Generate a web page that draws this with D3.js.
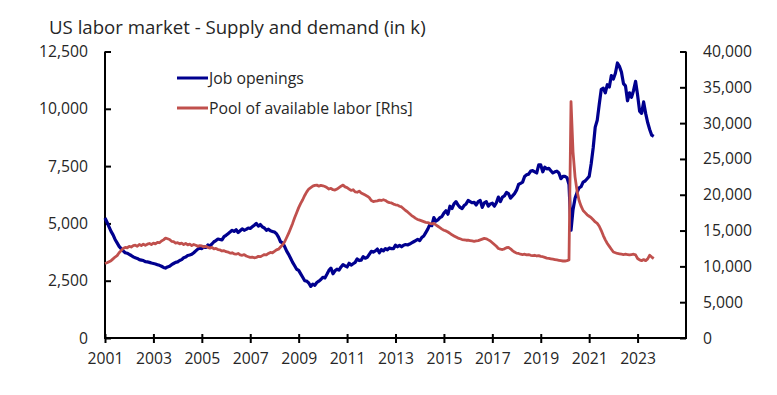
<!DOCTYPE html>
<html><head><meta charset="utf-8">
<script src="https://cdn.jsdelivr.net/npm/d3@7"></script>
<style>body{margin:0;background:#fff;} svg{display:block;font-family:"Open Sans",Lato,sans-serif;}</style>
</head><body><svg id="c" width="777" height="395"></svg>
<script>
const title = "US labor market - Supply and demand (in k)";
const seriesNames = ["Job openings", "Pool of available labor [Rhs]"];
const startYear = 2001; // monthly data from Jan 2001
const jobOpenings = [
5236,5050,4850,4650,4500,4300,4150,4000,3900,3800,3720,3700,
3650,3600,3540,3500,3470,3420,3400,3380,3330,3320,3300,3270,
3250,3230,3200,3170,3130,3080,3050,3100,3130,3200,3250,3300,
3320,3380,3420,3500,3530,3600,3620,3650,3720,3800,3880,3920,
3900,3980,3950,4060,4020,4100,4200,4250,4320,4300,4280,4420,
4480,4550,4620,4700,4650,4720,4600,4680,4760,4700,4740,4800,
4780,4850,4920,5000,4880,4950,4850,4800,4700,4750,4680,4650,
4620,4550,4400,4200,4150,4000,3800,3650,3480,3300,3150,3000,
2950,2800,2650,2500,2480,2400,2250,2350,2300,2420,2480,2550,
2650,2620,2780,2950,3050,2800,2930,3000,2960,3100,3200,3150,
3100,3260,3180,3240,3300,3450,3380,3400,3550,3480,3520,3650,
3780,3750,3800,3880,3720,3860,3800,3900,3850,3930,3900,3900,
4050,3980,4040,3980,4050,4080,4060,4100,4150,4200,4250,4300,
4250,4380,4450,4600,4750,4950,4900,5250,5100,5150,5250,5300,
5450,5550,5400,5750,5650,5850,5950,5800,5700,5650,5780,5850,
6000,5950,5900,5920,5800,5950,6000,5700,5900,5950,5750,5850,
5880,5750,5900,6150,5950,6150,6200,6350,6300,6100,6200,6300,
6450,6700,6750,6800,7050,7120,7150,7280,7300,7250,7200,7550,
7550,7250,7450,7380,7400,7300,7200,7250,7280,7200,6950,7050,
7050,7000,6700,4700,5600,6100,6350,6550,6600,6800,6850,6950,
7050,7600,8300,9200,9500,10200,10850,10900,10700,11050,10950,11450,
11300,11550,12000,11850,11600,11100,11000,10350,10700,10500,10800,11200,
10600,9900,9800,10300,9800,9400,9100,8850,8800
];
const laborPool = [
10400,10500,10650,10800,11050,11300,11500,11900,12200,12500,12650,12600,
12800,12700,12900,12950,12800,13050,12900,13100,12950,13100,13200,13050,
13250,13150,13350,13300,13550,13700,13950,13850,13750,13500,13450,13250,
13300,13150,13250,13050,13200,13000,13100,12900,13050,12950,12800,12900,
12850,12700,12800,12650,12550,12650,12450,12500,12350,12300,12150,12200,
12050,12000,11850,11900,11750,11700,11800,11600,11550,11650,11450,11350,
11250,11300,11200,11250,11400,11350,11500,11650,11600,11800,11950,11900,
12100,12300,12400,12700,13000,13400,14000,14600,15300,16000,16800,17500,
18200,18800,19300,19900,20400,20800,21000,21200,21300,21350,21200,21300,
21250,21150,21000,20800,20900,20700,20650,20800,21000,21200,21350,21100,
21000,20800,20600,20700,20400,20350,20500,20250,20100,19950,19800,19600,
19200,19050,19100,19150,19250,19200,19300,19200,19000,18900,18850,18700,
18600,18550,18400,18300,18050,17800,17600,17350,17100,16900,16700,16550,
16450,16350,16250,16150,16100,16000,15950,16000,15800,15600,15400,15200,
15050,14950,14800,14600,14400,14250,14100,13950,13850,13750,13700,13650,
13650,13600,13550,13500,13550,13600,13700,13800,13900,13850,13700,13550,
13300,13050,12800,12500,12400,12350,12450,12600,12650,12450,12200,12000,
11850,11800,11700,11650,11700,11600,11650,11550,11500,11550,11450,11500,
11400,11350,11250,11150,11100,11050,11000,10950,10900,10850,10800,10750,
10750,10800,10900,33000,26000,22500,20500,19200,18400,17800,17500,17200,
17000,16800,16500,16200,16000,15600,15000,14300,13700,13200,12800,12400,
12000,11900,11800,11750,11700,11650,11700,11650,11600,11650,11700,11600,
11100,10900,10800,10950,10800,11050,11550,11300,11100
];
const xTicks = [2001,2003,2005,2007,2009,2011,2013,2015,2017,2019,2021,2023];
const leftTicks = [0,2500,5000,7500,10000,12500];
const rightTicks = [0,5000,10000,15000,20000,25000,30000,35000,40000];

const svg = d3.select("#c");
svg.append("rect").attr("width",777).attr("height",395).attr("fill","#fff");
const L=105, R=686, T=51.5, B=338;
const x = d3.scaleLinear().domain([2001,2025]).range([L,R]);
const yL = d3.scaleLinear().domain([0,12500]).range([B,T]);
const yR = d3.scaleLinear().domain([0,40000]).range([B,T]);
const tcol="#262626";

// fit font size of a text so it has a target width
function fitSize(str, target, base){
  const tmp = svg.append("text").attr("font-size",base).text(str);
  const w = tmp.node().getComputedTextLength(); tmp.remove();
  return base*target/w;
}
const fsTick = fitSize("12,500", 49, 15);
const fsLeg = fitSize(seriesNames[1], 204, 15);
const fsTitle = fitSize(title, 377, 19);

svg.append("text").attr("x",49).attr("y",33.5).attr("fill",tcol).attr("font-size",fsTitle).text(title);

// axes
const gx = svg.append("g").attr("transform",`translate(0,${B})`)
  .call(d3.axisBottom(x).tickValues(xTicks).tickFormat(d3.format("d")).tickSize(0).tickPadding(15));
const gl = svg.append("g").attr("transform",`translate(${L},0)`)
  .call(d3.axisLeft(yL).tickValues(leftTicks).tickFormat(d3.format(",")).tickSize(0).tickPadding(17));
const gr = svg.append("g").attr("transform",`translate(${R},0)`)
  .call(d3.axisRight(yR).tickValues(rightTicks).tickFormat(d3.format(",")).tickSize(0).tickPadding(17));
[gx,gl,gr].forEach(g=>{
  g.select(".domain").remove();
  g.selectAll("text").attr("font-size",fsTick).attr("fill",tcol).attr("font-family","'Open Sans', sans-serif");
});
gx.selectAll(".tick").append("line").attr("y1",-4).attr("y2",5).attr("stroke","#000").attr("stroke-width",2);
gl.selectAll(".tick").append("line").attr("x1",0).attr("x2",6).attr("stroke","#000").attr("stroke-width",2);
gr.selectAll(".tick").append("line").attr("x1",0).attr("x2",-6).attr("stroke","#000").attr("stroke-width",2);
svg.append("path").attr("d",`M${L},${T}V${B}H${R}V${T}`).attr("fill","none").attr("stroke","#000").attr("stroke-width",2);

const blue="#00008f", red="#c0504d";
const tx = i => startYear + i/12;
const lineL = d3.line().x((d,i)=>x(tx(i))).y(d=>yL(d));
const lineR = d3.line().x((d,i)=>x(tx(i))).y(d=>yR(d));
svg.append("path").datum(jobOpenings).attr("d",lineL).attr("fill","none").attr("stroke",blue).attr("stroke-width",3.2).attr("stroke-linejoin","round");
svg.append("path").datum(laborPool).attr("d",lineR).attr("fill","none").attr("stroke",red).attr("stroke-width",2.8).attr("stroke-linejoin","round");

// legend
const leg = [{n:seriesNames[0],c:blue,y:78},{n:seriesNames[1],c:red,y:108}];
leg.forEach(d=>{
  svg.append("line").attr("x1",177).attr("x2",208).attr("y1",d.y).attr("y2",d.y).attr("stroke",d.c).attr("stroke-width",3);
  svg.append("text").attr("x",209).attr("y",d.y).attr("dy","0.35em").attr("font-size",fsLeg).attr("fill",tcol).text(d.n);
});
</script></body></html>
